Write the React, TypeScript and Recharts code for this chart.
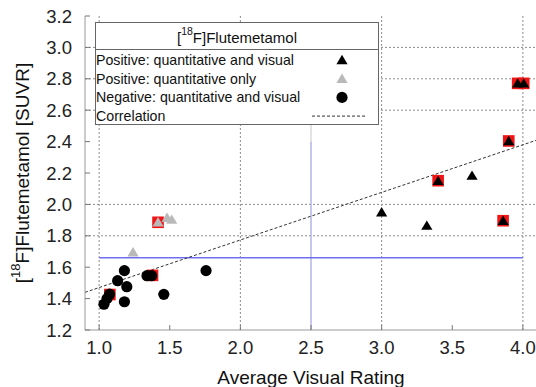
import React from 'react';
import { ScatterChart, Scatter, XAxis, YAxis, ReferenceLine, Legend, Label } from 'recharts';

const FONT = '"Liberation Sans", Arial, Helvetica, sans-serif';

const xTicks = [1.0, 1.5, 2.0, 2.5, 3.0, 3.5, 4.0];
const yTicks = [1.2, 1.4, 1.6, 1.8, 2.0, 2.2, 2.4, 2.6, 2.8, 3.0, 3.2];
const gridX = [1.0, 2.0, 3.0, 4.0];
const gridY = [1.8, 2.0, 2.6, 2.8, 3.0];

const posQuantVisual = [
  { x: 3.0, y: 1.95 },
  { x: 3.32, y: 1.865 },
  { x: 3.4, y: 2.15 },
  { x: 3.64, y: 2.183 },
  { x: 3.86, y: 1.896 },
  { x: 3.9, y: 2.404 },
  { x: 3.963, y: 2.771 },
  { x: 4.006, y: 2.771 },
];
const posQuantOnly = [
  { x: 1.24, y: 1.695 },
  { x: 1.417, y: 1.886 },
  { x: 1.481, y: 1.915 },
  { x: 1.514, y: 1.903 },
];
const negative = [
  { x: 1.034, y: 1.364 },
  { x: 1.056, y: 1.4 },
  { x: 1.074, y: 1.428 },
  { x: 1.131, y: 1.514 },
  { x: 1.179, y: 1.578 },
  { x: 1.196, y: 1.476 },
  { x: 1.179, y: 1.38 },
  { x: 1.339, y: 1.546 },
  { x: 1.372, y: 1.546 },
  { x: 1.458, y: 1.427 },
  { x: 1.757, y: 1.578 },
];
const flagged = [
  { x: 1.076, y: 1.426 },
  { x: 1.378, y: 1.548 },
  { x: 1.417, y: 1.886 },
  { x: 3.4, y: 2.151 },
  { x: 3.86, y: 1.896 },
  { x: 3.9, y: 2.404 },
  { x: 3.963, y: 2.771 },
  { x: 4.006, y: 2.771 },
];
const correlation = [
  { x: 0.9, y: 1.44 },
  { x: 4.1, y: 2.41 },
];
const quantThreshold = [
  { x: 1.0, y: 1.66 },
  { x: 4.0, y: 1.66 },
];
const visualThreshold = [
  { x: 2.5, y: 1.2 },
  { x: 2.5, y: 2.4 },
];
const visualThresholdUpper = [
  { x: 2.5, y: 2.4 },
  { x: 2.5, y: 2.56 },
];

const legendTitle = 'Flutemetamol';
const legendItems = [
  { label: 'Positive: quantitative and visual', kind: 'triBlack' },
  { label: 'Positive: quantitative only', kind: 'triGray' },
  { label: 'Negative: quantitative and visual', kind: 'circle' },
  { label: 'Correlation', kind: 'dash' },
];

const triPath = (cx: number, cy: number) =>
  `M${cx},${cy - 5.2}L${cx + 5.6},${cy + 4.2}L${cx - 5.6},${cy + 4.2}Z`;

const TriBlack = (p: any) => <path d={triPath(p.cx, p.cy)} fill="#000" />;
const TriGray = (p: any) => <path d={triPath(p.cx, p.cy)} fill="#b9b9b9" />;
const Dot = (p: any) => <circle cx={p.cx} cy={p.cy} r={5.6} fill="#000" />;
const RedSquare = (p: any) => (
  <rect x={p.cx - 5.8} y={p.cy - 5.8} width={11.6} height={11.6} fill="#f01414" />
);

const LegendBox = () => (
  <svg width={285} height={104} style={{ display: 'block' }}>
    <rect x={0.5} y={0.5} width={283} height={102} fill="#fff" stroke="#666" strokeWidth={1} />
    <line x1={0.5} x2={283.5} y1={27.5} y2={27.5} stroke="#666" strokeWidth={1} />
    <text x={142} y={15} textAnchor="middle" dominantBaseline="central" fontFamily={FONT} fontSize={15} fill="#111">
      [<tspan dy={-6} fontSize={10.5}>18</tspan>
      <tspan dy={6}>F]{legendTitle}</tspan>
    </text>
    {legendItems.map((it, i) => {
      const cy = 38 + i * 18.7;
      return (
        <g key={it.label}>
          <text x={1} y={cy} dominantBaseline="central" fontFamily={FONT} fontSize={14.2} fill="#111">
            {it.label}
          </text>
          {it.kind === 'triBlack' && <path d={triPath(247, cy)} fill="#000" />}
          {it.kind === 'triGray' && <path d={triPath(247, cy)} fill="#b9b9b9" />}
          {it.kind === 'circle' && <circle cx={247} cy={cy} r={5.6} fill="#000" />}
          {it.kind === 'dash' && (
            <line x1={217} x2={272} y1={cy} y2={cy} stroke="#333" strokeWidth={1} strokeDasharray="3 2" />
          )}
        </g>
      );
    })}
  </svg>
);

const YLabel = () => {
  const cx = 22;
  const cy = 173;
  return (
    <text
      x={cx}
      y={cy}
      transform={`rotate(-90, ${cx}, ${cy})`}
      textAnchor="middle"
      dominantBaseline="central"
      fontFamily={FONT}
      fontSize={19}
      fill="#111"
    >
      [<tspan dy={-7} fontSize={13}>18</tspan>
      <tspan dy={7}>F]Flutemetamol [SUVR]</tspan>
    </text>
  );
};

const XLabel = (props: any) => {
  const vb = props.viewBox || { x: 85, width: 452, y: 330 };
  return (
    <text
      x={vb.x + vb.width / 2}
      y={377}
      textAnchor="middle"
      dominantBaseline="central"
      fontFamily={FONT}
      fontSize={19}
      fill="#111"
    >
      Average Visual Rating
    </text>
  );
};

export default function App() {
  return (
    <div
      style={{
        position: 'absolute',
        left: 0,
        top: 0,
        width: 536,
        height: 387,
        overflow: 'hidden',
        background: '#fff',
      }}
    >
      <ScatterChart width={540} height={387} margin={{ top: 16, right: 3, bottom: 7, left: 25 }}>
        <XAxis
          type="number"
          dataKey="x"
          domain={[0.9, 4.1]}
          ticks={xTicks}
          allowDataOverflow
          tickFormatter={(v: number) => v.toFixed(1)}
          tick={{ fill: '#222', fontSize: 18.5, fontFamily: FONT }}
          tickSize={-5}
          tickMargin={16}
          tickLine={{ stroke: '#777' }}
          axisLine={{ stroke: '#999' }}
          height={50}
        >
          <Label content={XLabel} />
        </XAxis>
        <XAxis
          xAxisId="top"
          orientation="top"
          type="number"
          dataKey="x"
          domain={[0.9, 4.1]}
          ticks={xTicks}
          allowDataOverflow
          tick={false}
          tickSize={-5}
          tickLine={{ stroke: '#777' }}
          axisLine={{ stroke: '#999' }}
          height={0}
        />
        <YAxis
          type="number"
          dataKey="y"
          domain={[1.2, 3.2]}
          ticks={yTicks}
          allowDataOverflow
          tickFormatter={(v: number) => v.toFixed(1)}
          tick={{ fill: '#222', fontSize: 18.5, fontFamily: FONT }}
          tickSize={-5}
          tickMargin={18}
          tickLine={{ stroke: '#777' }}
          axisLine={{ stroke: '#999' }}
          width={60}
        >
          <Label content={YLabel} />
        </YAxis>
        <YAxis
          yAxisId="right"
          orientation="right"
          type="number"
          dataKey="y"
          domain={[1.2, 3.2]}
          ticks={yTicks}
          allowDataOverflow
          tick={false}
          tickSize={-5}
          tickLine={{ stroke: '#777' }}
          axisLine={{ stroke: '#999' }}
          width={0}
        />
        {gridX.map((v) => (
          <ReferenceLine
            key={'gx' + v}
            segment={[{ x: v, y: yTicks[0] }, { x: v, y: yTicks[yTicks.length - 1] }]}
            stroke="#8c8c8c"
            strokeWidth={1}
            strokeDasharray="2 2"
          />
        ))}
        {gridY.map((v) => (
          <ReferenceLine
            key={'gy' + v}
            segment={[{ x: 0.9, y: v }, { x: 4.1, y: v }]}
            stroke="#8c8c8c"
            strokeWidth={1}
            strokeDasharray="2 2"
          />
        ))}
        <ReferenceLine
          segment={visualThreshold.map((p) => ({ x: p.x, y: p.y }))}
          stroke="#b4b4e6"
          strokeWidth={1.5}
        />
        <ReferenceLine
          segment={visualThresholdUpper.map((p) => ({ x: p.x, y: p.y }))}
          stroke="#c8c8c8"
          strokeWidth={1}
        />
        <ReferenceLine
          segment={quantThreshold.map((p) => ({ x: p.x, y: p.y }))}
          stroke="#6e6ef2"
          strokeWidth={1.5}
        />
        <ReferenceLine
          segment={correlation.map((p) => ({ x: p.x, y: p.y }))}
          stroke="#333"
          strokeWidth={1}
          strokeDasharray="3 2"
        />
        <Scatter data={flagged} shape={RedSquare} isAnimationActive={false} />
        <Scatter data={negative} shape={Dot} isAnimationActive={false} />
        <Scatter data={posQuantOnly} shape={TriGray} isAnimationActive={false} />
        <Scatter data={posQuantVisual} shape={TriBlack} isAnimationActive={false} />
        <Legend
          layout="vertical"
          align="center"
          verticalAlign="middle"
          content={LegendBox}
          wrapperStyle={{ position: 'absolute', left: 95, top: 22, width: 285, height: 104 }}
        />
      </ScatterChart>
    </div>
  );
}
